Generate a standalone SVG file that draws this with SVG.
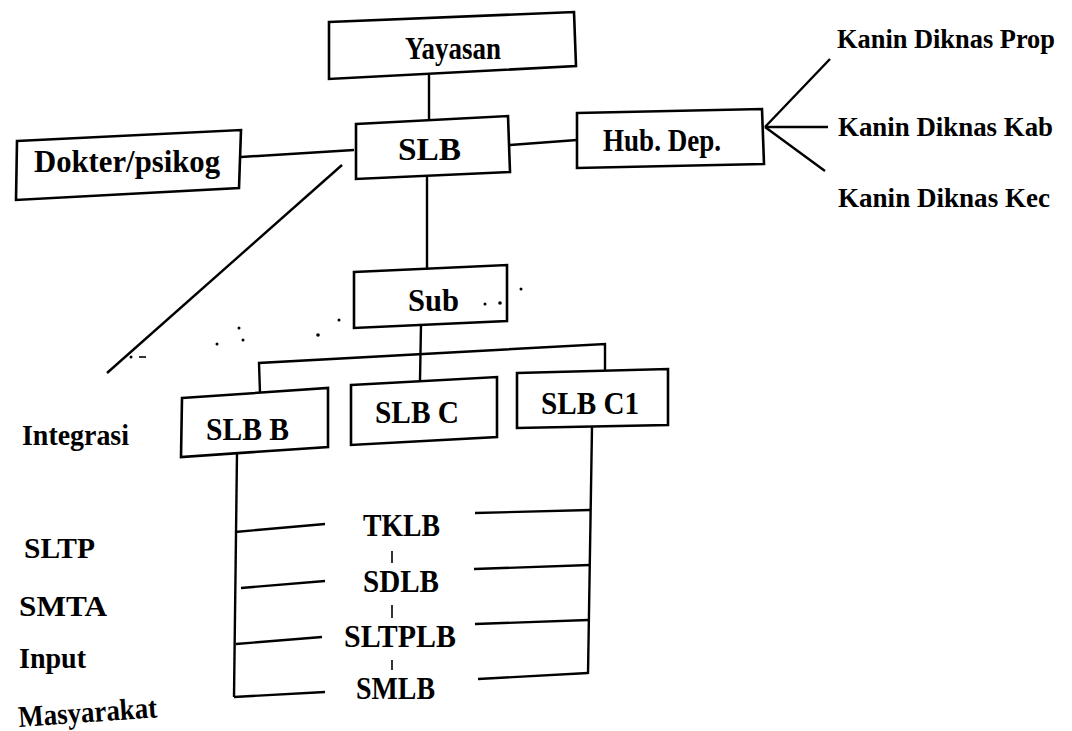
<svg xmlns="http://www.w3.org/2000/svg" width="1072" height="731" viewBox="0 0 1072 731">
<style>
.box{fill:none;stroke:#000;stroke-width:2.6;stroke-linejoin:miter}
.ln{fill:none;stroke:#000;stroke-width:2.4;stroke-linecap:butt}
.tk{fill:none;stroke:#000;stroke-width:1.6}
text{font-family:"Liberation Serif","Times New Roman",serif;font-weight:bold;font-size:30px;fill:#000}
.big{font-size:32px}
.kan{font-size:27px}
.dot{fill:#000}
</style>
<rect width="1072" height="731" fill="#fff"/>
<g id="connectors">
<line class="ln" x1="429" y1="75" x2="429" y2="120"/>
<line class="ln" x1="427" y1="177" x2="427" y2="270"/>
<line class="ln" x1="241" y1="157" x2="354" y2="150"/>
<line class="ln" x1="510" y1="145" x2="577" y2="140"/>
<line class="ln" x1="342" y1="165" x2="107" y2="373"/>
<line class="ln" x1="765" y1="127" x2="830" y2="59"/>
<line class="ln" x1="765" y1="127" x2="828" y2="127"/>
<line class="ln" x1="765" y1="127" x2="825" y2="171"/>
<line class="ln" x1="421" y1="325" x2="420" y2="380"/>
<polyline class="ln" points="260,393 259,363 605,344 605,371"/>
<line class="ln" x1="237" y1="453" x2="234" y2="697"/>
<line class="ln" x1="592" y1="427" x2="588" y2="674"/>
<line class="ln" x1="235" y1="532" x2="325" y2="524"/>
<line class="ln" x1="241" y1="588" x2="325" y2="581"/>
<line class="ln" x1="236" y1="644" x2="322" y2="637"/>
<line class="ln" x1="234" y1="697" x2="325" y2="692"/>
<line class="ln" x1="475" y1="513" x2="590" y2="510"/>
<line class="ln" x1="474" y1="569" x2="590" y2="565"/>
<line class="ln" x1="475" y1="624" x2="588" y2="620"/>
<line class="ln" x1="478" y1="679" x2="588" y2="673"/>
<line class="tk" x1="392" y1="551" x2="392" y2="563"/>
<line class="tk" x1="392" y1="605" x2="392" y2="618"/>
<line class="tk" x1="392" y1="660" x2="392" y2="670"/>
</g>
<g id="node-yayasan"><polygon class="box" points="329,22 574,12 576,66 329,79"/><text class="big" x="405" y="59" textLength="96" lengthAdjust="spacingAndGlyphs">Yayasan</text></g>
<g id="node-slb"><polygon class="box" points="356,124 508,116 510,172 356,179"/><text class="big" x="398" y="160" textLength="63" lengthAdjust="spacingAndGlyphs">SLB</text></g>
<g id="node-dokter"><polygon class="box" points="17,141 241,130 239,188 16,200"/><text class="big" x="34" y="172" textLength="186" lengthAdjust="spacingAndGlyphs">Dokter/psikog</text></g>
<g id="node-hubdep"><polygon class="box" points="577,113 762,109 764,164 577,168"/><text class="big" x="603" y="151" textLength="118" lengthAdjust="spacingAndGlyphs">Hub. Dep.</text></g>
<g id="node-prop"><text class="kan" x="837" y="48" textLength="218" lengthAdjust="spacingAndGlyphs">Kanin Diknas Prop</text></g>
<g id="node-kab"><text class="kan" x="838" y="136" textLength="215" lengthAdjust="spacingAndGlyphs">Kanin Diknas Kab</text></g>
<g id="node-kec"><text class="kan" x="838" y="207" textLength="212" lengthAdjust="spacingAndGlyphs">Kanin Diknas Kec</text></g>
<g id="node-sub"><polygon class="box" points="354,272 507,265 507,321 354,328"/><text class="big" x="408" y="311" textLength="51" lengthAdjust="spacingAndGlyphs">Sub</text></g>
<g id="node-slbb"><polygon class="box" points="182,398 328,388 328,447 181,457"/><text class="big" x="206" y="440" textLength="83" lengthAdjust="spacingAndGlyphs">SLB B</text></g>
<g id="node-slbc"><polygon class="box" points="351,385 497,377 497,437 351,445"/><text class="big" x="375" y="423" textLength="84" lengthAdjust="spacingAndGlyphs">SLB C</text></g>
<g id="node-slbc1"><polygon class="box" points="517,373 668,369 668,425 517,428"/><text class="big" x="541" y="414" textLength="98" lengthAdjust="spacingAndGlyphs">SLB C1</text></g>
<g id="node-integrasi"><text x="22" y="445" textLength="107" lengthAdjust="spacingAndGlyphs">Integrasi</text></g>
<g id="node-sltp"><text x="24" y="558" textLength="71" lengthAdjust="spacingAndGlyphs">SLTP</text></g>
<g id="node-smta"><text x="19" y="616" textLength="88" lengthAdjust="spacingAndGlyphs">SMTA</text></g>
<g id="node-input"><text x="19" y="668" textLength="67" lengthAdjust="spacingAndGlyphs">Input</text></g>
<g id="node-masyarakat"><text x="19" y="727" textLength="139" lengthAdjust="spacingAndGlyphs" transform="rotate(-4 19 727)">Masyarakat</text></g>
<g id="node-tklb"><text class="big" x="363" y="536" textLength="77" lengthAdjust="spacingAndGlyphs">TKLB</text></g>
<g id="node-sdlb"><text class="big" x="363" y="592" textLength="76" lengthAdjust="spacingAndGlyphs">SDLB</text></g>
<g id="node-sltplb"><text class="big" x="344" y="647" textLength="112" lengthAdjust="spacingAndGlyphs">SLTPLB</text></g>
<g id="node-smlb"><text class="big" x="356" y="699" textLength="79" lengthAdjust="spacingAndGlyphs">SMLB</text></g>
<g id="specks">
<circle class="dot" cx="131" cy="357" r="1.5"/>
<line class="tk" x1="139" y1="357" x2="146" y2="357"/>
<circle class="dot" cx="217" cy="344" r="1.5"/>
<circle class="dot" cx="239" cy="328" r="1.5"/>
<circle class="dot" cx="243" cy="340" r="1.5"/>
<circle class="dot" cx="318" cy="335" r="1.8"/>
<circle class="dot" cx="339" cy="320" r="1.5"/>
<circle class="dot" cx="485" cy="304" r="1.5"/>
<circle class="dot" cx="500" cy="303" r="1.8"/>
<circle class="dot" cx="521" cy="289" r="1.5"/>
</g>
</svg>
